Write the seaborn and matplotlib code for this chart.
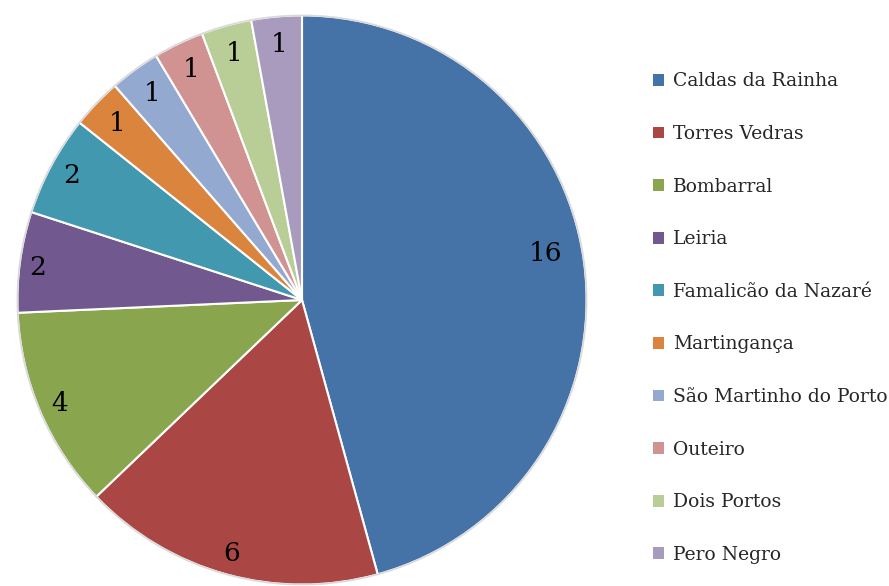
import matplotlib
matplotlib.use("Agg")
import numpy as np
import matplotlib.pyplot as plt
import seaborn as sns
from matplotlib.patches import Patch

categories = ["Caldas da Rainha", "Torres Vedras", "Bombarral", "Leiria",
              "Famalicão da Nazaré", "Martingança", "São Martinho do Porto",
              "Outeiro", "Dois Portos", "Pero Negro"]
values = [16, 6, 4, 2, 2, 1, 1, 1, 1, 1]
colors = ["#4572A7", "#AA4643", "#89A54E", "#71588F", "#4198AF",
          "#DB843D", "#93A9CF", "#D19392", "#B9CD96", "#A99BBD"]

sns.set_theme(style="white")
plt.rcParams['font.family'] = ['DejaVu Serif']

fig = plt.figure(figsize=(8.89, 5.86), dpi=100)
W, H = 889, 586
cx, cy, r = 302, 300, 286
ax = fig.add_axes([(cx - r) / W, (H - cy - r) / H, 2 * r / W, 2 * r / H])

wedges, texts = ax.pie(values, colors=colors, startangle=90, counterclock=False,
                       labels=[str(v) for v in values], labeldistance=0.91,
                       wedgeprops=dict(edgecolor="white", linewidth=1.5),
                       textprops=dict(fontsize=19, color="black"))
# label placement tweaks (distance / angle offset), like Excel's inside-end placement
dist = [0.87, 0.925, 0.925, 0.935, 0.92, 0.90, 0.895, 0.90, 0.90, 0.90]
dang = [3, 0, 0, 0.8, 0, 0, 0, 0, 0, 0]
for w, t, d, da in zip(wedges, texts, dist, dang):
    mid = np.deg2rad((w.theta1 + w.theta2) / 2 + da)
    t.set_position((d * np.cos(mid), d * np.sin(mid)))
    t.set_ha("center")
    t.set_va("center")
outline = plt.Circle((0, 0), 1.0, fill=False, edgecolor="#d9d9d9", linewidth=1.2)
ax.add_patch(outline)
ax.set_xlim(-1.005, 1.005)
ax.set_ylim(-1.005, 1.005)
ax.set_aspect("equal")
ax.axis("off")

handles = [Patch(facecolor=c, edgecolor="none") for c in colors]
fig.legend(handles, categories, loc="upper left", bbox_to_anchor=(653 / W, 1 - 72.5 / H),
           frameon=False, fontsize=13.5, handlelength=0.6, handleheight=0.6,
           handletextpad=0.45, labelspacing=1.845, borderaxespad=0, borderpad=0)

fig.savefig("out.png", dpi=100)
